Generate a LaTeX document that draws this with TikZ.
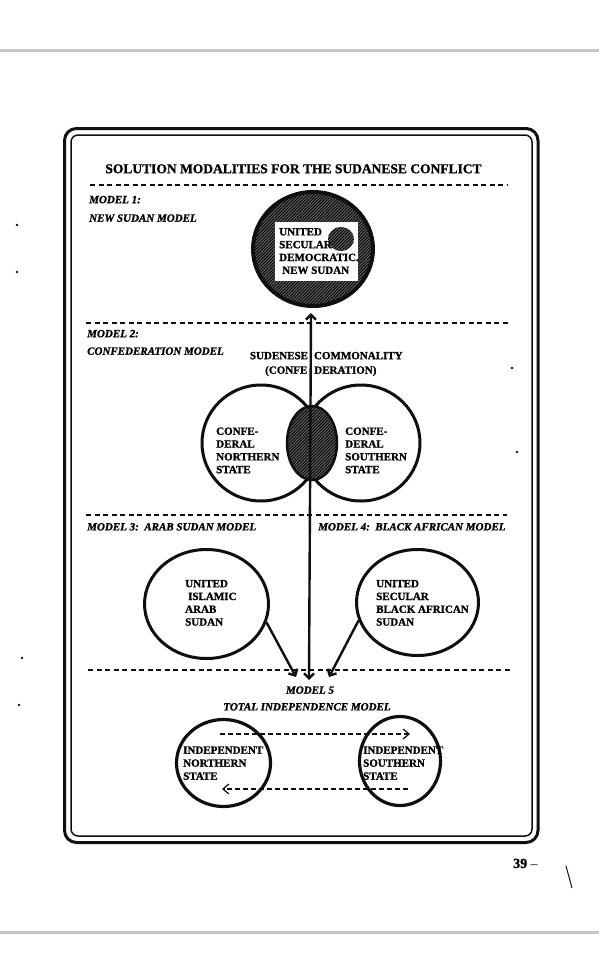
\documentclass[tikz,border=0pt]{standalone}
\usepackage{fontspec}
\setmainfont{Liberation Serif}[BoldFeatures={FakeBold=1.2}, BoldItalicFeatures={FakeBold=1.2}]
\definecolor{pagegrey}{RGB}{198,198,198}
\definecolor{ink}{RGB}{15,15,15}
\usetikzlibrary{shapes.geometric}
\usetikzlibrary{arrows.meta}
\usetikzlibrary{patterns.meta}
\tikzset{
  frameout/.style={draw=ink, line width=3pt, rounded corners=12pt},
  framein/.style={draw=ink, line width=1.5pt, rounded corners=7pt},
  divider/.style={draw=ink, line width=1.3pt, dash pattern=on 5pt off 3.5pt},
  headline/.style={font=\fontsize{13.5}{16}\selectfont\bfseries, anchor=base, inner sep=0pt},
  modelhead/.style={font=\fontsize{11}{13}\selectfont\bfseries\itshape, anchor=base west, inner sep=0pt},
  plaintxt/.style={font=\fontsize{11}{13}\selectfont\bfseries, anchor=base, inner sep=0pt},
  statetxt/.style={font=\fontsize{11}{12.8}\selectfont\bfseries, align=left, anchor=north west, inner sep=0pt},
  ring/.style={ellipse, draw=ink, line width=3pt, inner sep=0pt},
  hatched/.style={preaction={fill=black!62}, pattern={Lines[angle=45,distance=2.2pt,line width=0.9pt]}, pattern color=black},
  bigarrow/.style={draw=ink, line width=2.4pt, arrows={-Straight Barb[length=5pt,width=10pt]}},
  dasharrow/.style={draw=ink, line width=1.2pt, dash pattern=on 5pt off 3pt, arrows={-Straight Barb[length=6pt,width=10pt]}},
}

\begin{document}
\begin{tikzpicture}[x=1pt,y=-1pt]

  \useasboundingbox (0,0) rectangle (599,972);
  \fill [white] (0,0) rectangle (599,972);

  % page edges
  \foreach \y in {50,932} \draw [pagegrey, line width=3pt] (0,\y) -- (599,\y);

  % double frame
  \draw [frameout] (64.5,128.5) rectangle (538,842.5);
  \draw [framein] (71,135) rectangle (532,836);

  \node [headline] (title) at (293.5,173.2) {SOLUTION MODALITIES FOR THE SUDANESE CONFLICT};

  \foreach \y/\a/\b in {185/90/508, 323/86/508, 515/86/507, 670/88/512}
    \draw [divider] (\a,\y) -- (\b,\y);

  % model 1
  \node [modelhead] (h1) at (89,203.2) {MODEL 1:};
  \node [modelhead] (h1b) at (89,221.7) {NEW SUDAN MODEL};
  \node [ring, hatched, line width=4pt, minimum width=120pt, minimum height=114pt] (m1) at (313,249) {};
  \fill [white] (275,222) rectangle (358,281);
  \fill [hatched] (341,239) ellipse [x radius=13pt, y radius=12pt];
  \node [statetxt] (m1txt) at (279,228) {UNITED\\SECULAR\\DEMOCRATIC.\\\hspace*{3pt}NEW SUDAN};

  % model 2
  \node [modelhead] (h2) at (87,337.2) {MODEL 2:};
  \node [modelhead] (h2b) at (87,354.7) {CONFEDERATION MODEL};
  \node [plaintxt] (comm) at (326.3,359.2) {SUDENESE\hspace{6pt}COMMONALITY};
  \node [plaintxt] (conf) at (320.8,373.7) {(CONFE\hspace{7pt}DERATION)};
  \node [ring, minimum width=118pt, minimum height=116pt] (north2) at (261,443) {};
  \node [ring, minimum width=118pt, minimum height=116pt] (south2) at (361,443) {};
  \node [ring, hatched, line width=2.5pt, minimum width=50pt, minimum height=74pt] (common) at (312,443) {};
  \node [statetxt] (n2txt) at (216,427.3) {CONFE-\\DERAL\\NORTHERN\\STATE};
  \node [statetxt] (s2txt) at (345,427.3) {CONFE-\\DERAL\\SOUTHERN\\STATE};

  % models 3 and 4
  \node [modelhead] (h3) at (87,530.4) {MODEL 3:\ \ ARAB SUDAN MODEL};
  \node [modelhead] (h4) at (318,530.4) {MODEL 4:\ \ BLACK AFRICAN MODEL};
  \node [ring, minimum width=124pt, minimum height=109pt] (m3) at (206.5,604) {};
  \node [ring, minimum width=122pt, minimum height=106pt] (m4) at (417.5,602.5) {};
  \node [statetxt] (m3txt) at (185,579.8) {UNITED\\\hspace*{3pt}ISLAMIC\\ARAB\\SUDAN};
  \node [statetxt] (m4txt) at (376,579.8) {UNITED\\SECULAR\\BLACK AFRICAN\\SUDAN};

  % model 5
  \node [plaintxt, font=\fontsize{11}{13}\selectfont\bfseries\itshape] (h5) at (310,693.7) {MODEL 5};
  \node [plaintxt, font=\fontsize{11}{13}\selectfont\bfseries\itshape] (h5b) at (307,710.4) {TOTAL INDEPENDENCE MODEL};
  \node [ring, line width=3.2pt, minimum width=94pt, minimum height=87pt] (north5) at (223.5,763) {};
  \node [ring, line width=3.2pt, minimum width=81pt, minimum height=89pt] (south5) at (400,761) {};
  \node [statetxt, font=\fontsize{11}{13}\selectfont\bfseries] (n5txt) at (183,746.3) {INDEPENDENT\\NORTHERN\\STATE};
  \node [statetxt, font=\fontsize{11}{13}\selectfont\bfseries] (s5txt) at (363,746.3) {INDEPENDENT\\SOUTHERN\\STATE};

  % arrows
  \coordinate (m1tip) at (311,313);
  \coordinate (m5tip) at (309,680);
  \coordinate (tipL) at (296,677);
  \coordinate (tipR) at (329,677);
  \draw [bigarrow, arrows={Straight Barb[length=5pt,width=10pt]-Straight Barb[length=5pt,width=10pt]}] (m5tip) -- (m1tip);
  \draw [bigarrow] (m3.-17) -- (tipL);
  \draw [bigarrow] (m4.-163) -- (tipR);

  \coordinate (nOut) at (220,734);
  \coordinate (sIn) at (410,734);
  \coordinate (sOut) at (408,789);
  \coordinate (nIn) at (222,789);
  \draw [dasharrow] (nOut) -- (sIn);
  \draw [dasharrow] (sOut) -- (nIn);

  % page number and specks
  \node [anchor=base west, inner sep=0pt, font=\fontsize{14}{16}\selectfont] (page) at (513,868) {\textbf{39} --};
  \draw [ink, line width=1pt] (566,866) -- (572,888);
  \foreach \p in {(17,225),(17,272),(22,658),(19,705),(512,368),(517,452)}
    \fill [ink] \p circle [radius=1.3pt];

\end{tikzpicture}
\end{document}
